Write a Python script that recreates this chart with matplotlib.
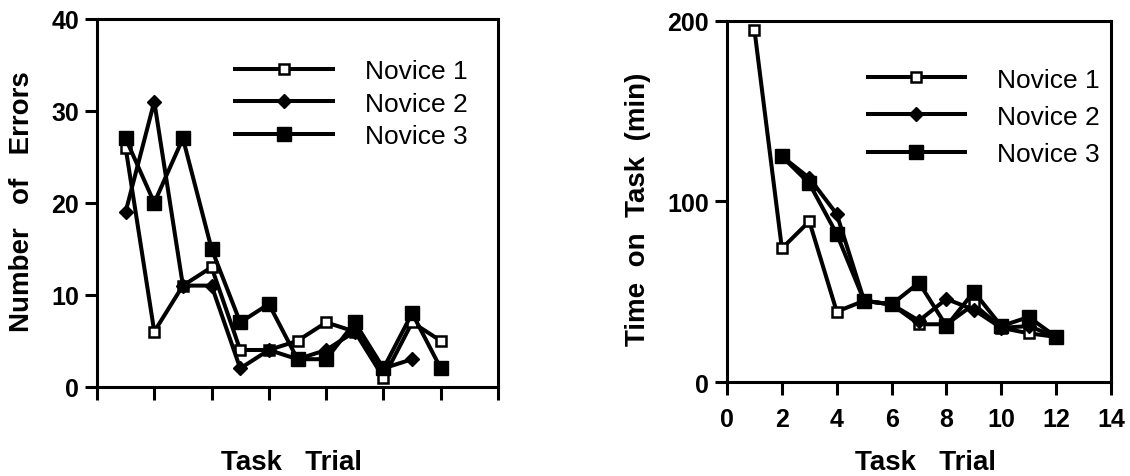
import numpy as np
import matplotlib.pyplot as plt

plt.rcParams['font.family'] = ['Liberation Sans', 'DejaVu Sans']

# task trials
trials = np.arange(1, 13)
names = ['Novice 1', 'Novice 2', 'Novice 3']

# number of errors per trial (Novice 2 has no 12th trial)
errors_n1 = [26, 6, 11, 13, 4, 4, 5, 7, 6, 1, 7, 5]
errors_n2 = [19, 31, 11, 11, 2, 4, 3, 4, 6, 2, 3]
errors_n3 = [27, 20, 27, 15, 7, 9, 3, 3, 7, 2, 8, 2]

# time on task (min); Novice 2 and 3 start at trial 2
time_n1 = [195, 74, 89, 39, 45, 43, 32, 32, 43, 30, 27, 25]
time_n2 = [125, 113, 93, 45, 43, 34, 46, 40, 30, 31, 25]
time_n3 = [125, 110, 82, 45, 43, 55, 31, 50, 31, 36, 25]

styles = [dict(marker='s', markersize=7.5, markerfacecolor='white', markeredgewidth=1.8),
          dict(marker='D', markersize=7.5, markerfacecolor='black'),
          dict(marker='s', markersize=10, markerfacecolor='black')]


def draw(ax, series, xs):
    for s, x, name, st in zip(series, xs, names, styles):
        ax.plot(x, s, color='black', lw=2.9, markeredgecolor='black', label=name, **st)
    for side in ['top', 'right', 'left', 'bottom']:
        ax.spines[side].set_linewidth(2.2)
    ax.tick_params(direction='out', length=9, width=2.2, labelsize=18, pad=4)


fig = plt.figure(figsize=(11.3, 4.77), dpi=100)

ax1 = fig.add_axes([0.0858, 0.187, 0.355, 0.7715])
draw(ax1, [errors_n1, errors_n2, errors_n3],
     [trials, trials[:len(errors_n2)], trials])
ax1.set_xlim(0, 14)
ax1.set_ylim(0, 40)
ax1.set_xticks(np.arange(0, 15, 2))
ax1.set_xticklabels([])
ax1.set_yticks([0, 10, 20, 30, 40])
for t in ax1.get_yticklabels():
    t.set_fontweight('bold')
ax1.set_ylabel('Number   of   Errors', fontsize=20, fontweight='bold')
ax1.yaxis.set_label_coords(-0.155, 0.505)
ax1.set_xlabel('Task   Trial', fontsize=20, fontweight='bold', va='top')
ax1.xaxis.set_label_coords(0.486, -0.168)
ax1.legend(loc='upper left', bbox_to_anchor=(0.345, 0.89), frameon=False,
           fontsize=19, handlelength=3.7, handletextpad=1.2, labelspacing=0.32,
           borderpad=0, borderaxespad=0)

ax2 = fig.add_axes([0.6434, 0.197, 0.3398, 0.757])
draw(ax2, [time_n1, time_n2, time_n3],
     [trials, trials[1:], trials[1:]])
ax2.set_xlim(0, 14)
ax2.set_ylim(0, 200)
ax2.set_xticks(np.arange(0, 15, 2))
ax2.set_yticks([0, 100, 200])
for t in ax2.get_yticklabels() + ax2.get_xticklabels():
    t.set_fontweight('bold')
ax2.tick_params(axis='x', labelsize=18, pad=9)
ax2.set_ylabel('Time  on  Task  (min)', fontsize=20, fontweight='bold')
ax2.yaxis.set_label_coords(-0.198, 0.48)
ax2.set_xlabel('Task   Trial', fontsize=20, fontweight='bold', va='top')
ax2.xaxis.set_label_coords(0.516, -0.186)
ax2.legend(loc='upper left', bbox_to_anchor=(0.366, 0.871), frameon=False,
           fontsize=19, handlelength=3.7, handletextpad=1.2, labelspacing=0.5,
           borderpad=0, borderaxespad=0)

fig.savefig('out.png', dpi=100)
